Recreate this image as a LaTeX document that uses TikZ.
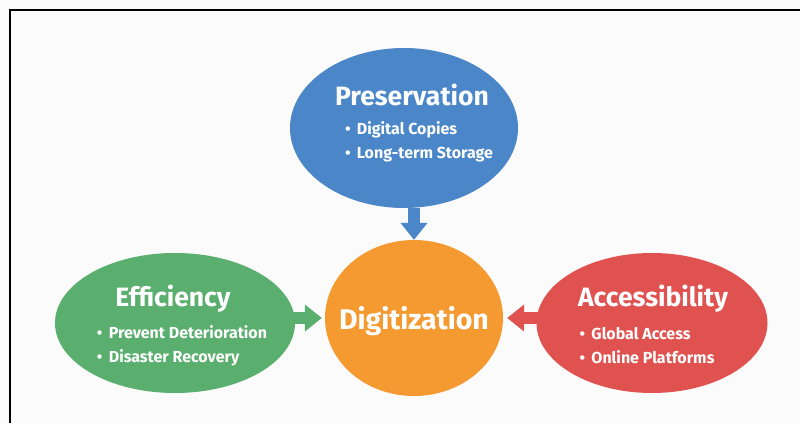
\documentclass[tikz,border=0pt]{standalone}
\usepackage{fontspec}
\setmainfont{Fira Sans}
\usetikzlibrary{arrows.meta,shapes.geometric,positioning}

\definecolor{presblue}{HTML}{4A86C8}
\definecolor{effgreen}{HTML}{5AAE6E}
\definecolor{digorange}{HTML}{F59A31}
\definecolor{accred}{HTML}{E0524F}

\newcommand{\itm}{•\hspace{0.4em}}

\tikzset{
  bubble/.style={ellipse, inner sep=0pt},
  head/.style={text=white, font=\bfseries\fontsize{26.5}{30}\selectfont},
  items/.style={text=white, align=left, font=\bfseries\fontsize{16}{24}\selectfont},
  fatarrow/.style={line width=12pt, -{Triangle[length=17pt,width=26pt]}}
}

\begin{document}
\begin{tikzpicture}[x=1pt,y=1pt]
  \useasboundingbox (0,0) rectangle (800,423);
  \fill [gray!3] (0,0) rectangle (800,423);
  \draw [line width=2pt] (10,0) -- (10,413) -- (800,413);

  % the four bubbles
  \node [bubble, fill=presblue, minimum width=228pt, minimum height=160pt] (pres) at (404,295) {};
  \node [bubble, fill=digorange, minimum width=178pt, minimum height=156pt] (dig) at (414,105) {};
  \node [bubble, fill=effgreen, minimum width=240pt, minimum height=140pt] (eff) at (175,100) {};
  \node [bubble, fill=accred, minimum width=231pt, minimum height=140pt] (acc) at (652,100) {};

  \node [head] at ([xshift=8pt,yshift=33pt]pres.center) {Preservation};
  \node [items] at ([xshift=15pt,yshift=-14pt]pres.center) {\itm Digital Copies\\\itm Long-term Storage};

  \node [text=white, font=\bfseries\fontsize{28.5}{32}\selectfont] at ([yshift=-3pt]dig.center) {Digitization};

  \node [head] at ([xshift=-2pt,yshift=24pt]eff.center) {Efficiency};
  \node [items] at ([xshift=7pt,yshift=-23pt]eff.center) {\itm Prevent Deterioration\\\itm Disaster Recovery};

  \node [head] at ([xshift=1pt,yshift=24pt]acc.center) {Accessibility};
  \node [items] at ([xshift=-5pt,yshift=-23pt]acc.center) {\itm Global Access\\\itm Online Platforms};

  % arrows into the centre
  \draw [fatarrow, presblue] (pres.south -| dig.north) -- (dig.north);
  \draw [fatarrow, effgreen] ([xshift=-8pt]eff.east |- dig.west) -- ([xshift=-3pt]dig.west);
  \draw [fatarrow, accred] ([xshift=4pt]acc.west |- dig.east) -- ([xshift=4pt]dig.east);
\end{tikzpicture}
\end{document}
